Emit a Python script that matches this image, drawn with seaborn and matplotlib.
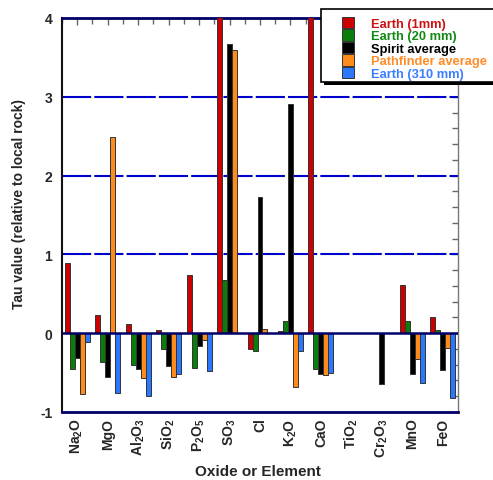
import matplotlib
matplotlib.use("Agg")
import matplotlib.pyplot as plt
import seaborn as sns
import pandas as pd
import numpy as np
from matplotlib.patches import Patch, Rectangle
from matplotlib.ticker import MultipleLocator, FixedLocator

categories = ["Na2O", "MgO", "Al2O3", "SiO2", "P2O5", "SO3", "Cl", "K2O",
              "CaO", "TiO2", "Cr2O3", "MnO", "FeO"]
tick_labels = [r"Na$_2$O", "MgO", r"Al$_2$O$_3$", r"SiO$_2$", r"P$_2$O$_5$",
               r"SO$_3$", "Cl", r"K$_2$O", "CaO", r"TiO$_2$", r"Cr$_2$O$_3$",
               "MnO", "FeO"]
series = ["Earth (1mm)", "Earth (20 mm)", "Spirit average",
          "Pathfinder average", "Earth (310 mm)"]
earth_1mm = [0.89, 0.23, 0.12, 0.04, 0.74, 4.5, -0.20, 0.03, 4.5, 0.0, 0.0, 0.61, 0.20]
earth_20mm = [-0.46, -0.36, -0.40, -0.20, -0.44, 0.68, -0.22, 0.15, -0.46, 0.0, 0.0, 0.16, 0.04]
spirit_avg = [-0.32, -0.55, -0.46, -0.41, -0.16, 3.67, 1.73, 2.91, -0.52, 0.0, -0.64, -0.52, -0.47]
pathfinder_avg = [-0.77, 2.49, -0.57, -0.55, -0.08, 3.60, 0.055, -0.68, -0.53, 0.0, 0.0, -0.33, -0.19]
earth_310mm = [-0.11, -0.76, -0.80, -0.52, -0.48, 0.0, 0.0, -0.23, -0.50, 0.0, 0.0, -0.63, -0.82]

bar_colors = ["#cc0000", "#0a7d0a", "#000000", "#ff8c1a", "#2a78ff"]
text_colors = ["#cc1111", "#118811", "#000000", "#ff8c28", "#3a7cff"]

rows = []
for s, vals in zip(series, [earth_1mm, earth_20mm, spirit_avg, pathfinder_avg, earth_310mm]):
    for c, v in zip(categories, vals):
        rows.append({"cat": c, "series": s, "value": v})
df = pd.DataFrame(rows)

sns.set_style("white")
plt.rcParams["font.family"] = ["Liberation Sans", "DejaVu Sans"]
plt.rcParams["font.weight"] = "bold"
plt.rcParams["mathtext.default"] = "bf"
plt.rcParams["mathtext.fontset"] = "custom"
plt.rcParams["mathtext.bf"] = "Liberation Sans:bold"
plt.rcParams["mathtext.rm"] = "Liberation Sans:bold"

W, H = 493, 481
fig = plt.figure(figsize=(W / 100, H / 100), dpi=100)
ax = fig.add_axes([62/W, 1 - 413/H, (458-62)/W, (413-19)/H])

sns.barplot(data=df, x="cat", y="value", hue="series", order=categories,
            hue_order=series, palette=bar_colors, width=0.82, gap=0,
            edgecolor="#333333", linewidth=0.7, saturation=1, legend=False,
            errorbar=None, ax=ax, zorder=3)

ax.set_xlim(-0.5, 12.5)
ax.set_ylim(-1, 4)

for yv in [1, 2, 3]:
    ax.axhline(yv, color="#0000cc", lw=1.5, ls=(0, (14, 1.5)), zorder=1)
ax.axhline(0, color="#000066", lw=1.8, zorder=4)

for side in ["top", "bottom"]:
    ax.spines[side].set_color("#000066")
    ax.spines[side].set_linewidth(2)
ax.spines["left"].set_color("#111111")
ax.spines["left"].set_linewidth(1.5)
ax.spines["right"].set_color("#777777")
ax.spines["right"].set_linewidth(1.0)

ax.set_xticks(range(len(categories)))
ax.set_xticklabels(tick_labels, rotation=90, fontsize=10, fontweight="bold")
ax.xaxis.set_minor_locator(FixedLocator(np.arange(-0.5, 13, 1.0)))
ax.yaxis.set_major_locator(MultipleLocator(1))
ax.yaxis.set_minor_locator(MultipleLocator(0.2))
ax.set_yticklabels([str(int(t)) for t in ax.get_yticks()], fontsize=10, fontweight="bold")
ax.tick_params(axis="both", which="both", direction="in", top=True, right=True,
               color="#666666", width=1)
ax.tick_params(axis="both", which="major", length=5)
ax.tick_params(axis="both", which="minor", length=4)
ax.tick_params(axis="x", which="major", pad=4)
ax.tick_params(axis="y", which="major", pad=7)

ax.set_xlabel("Oxide or Element", fontsize=11, fontweight="bold")
ax.xaxis.label.set_va("center")
ax.xaxis.set_label_coords((258 - 62) / 396, (413 - 472) / 394)
ax.set_ylabel("Tau value (relative to local rock)", fontsize=10, fontweight="bold")
ax.yaxis.label.set_va("center")
ax.yaxis.set_label_coords((19 - 62) / 396, (413 - 204) / 394)

# legend box (frame + shadow) in figure pixels
fx0, fy0, fx1, fy1 = 321, 10, 498, 83
fig.patches.append(Rectangle(((fx0 + 3) / W, 1 - (fy1 + 3) / H), (fx1 - fx0) / W,
                             (fy1 - fy0) / H, transform=fig.transFigure,
                             facecolor="black", edgecolor="none", zorder=5))
fig.patches.append(Rectangle((fx0 / W, 1 - fy1 / H), (fx1 - fx0) / W,
                             (fy1 - fy0) / H, transform=fig.transFigure,
                             facecolor="white", edgecolor="black", lw=1.2, zorder=6))

handles = [Patch(facecolor=c, edgecolor="#333333", lw=0.7) for c in bar_colors]
leg = fig.legend(handles, series, loc="upper left",
                 bbox_to_anchor=(342 / W, 1 - 17.5 / H), fontsize=9.3,
                 frameon=False, labelspacing=-0.06, handlelength=0.93,
                 handleheight=1.02, handletextpad=1.35, borderpad=0,
                 borderaxespad=0)
leg.set_zorder(7)
for t, c in zip(leg.get_texts(), text_colors):
    t.set_color(c)
    t.set_fontweight("bold")

fig.savefig("out.png", dpi=100)
